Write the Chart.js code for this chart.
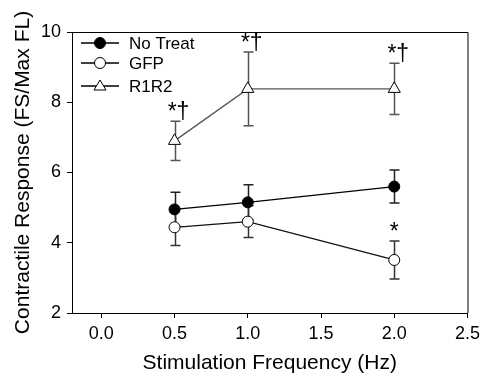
<!DOCTYPE html>
<html lang="en">
<head>
  <meta charset="UTF-8" />
  <title>Contractile Response</title>
  <script src="https://cdn.jsdelivr.net/npm/chart.js"></script>
  <style>
    body { margin: 0; background: #fff; }
    #wrap { width: 485px; height: 378px; }
  </style>
</head>
<body>
  <div id="wrap"><canvas id="chart" width="485" height="378"></canvas></div>
  <script>
    // values
    const freqs = [0.5, 1.0, 2.0];
    const noTreat = [4.95, 5.15, 5.6];
    const noTreatErr = [0.49, 0.5, 0.47];
    const gfp = [4.44, 4.6, 3.51];
    const gfpErr = [0.52, 0.45, 0.54];
    const r1r2 = [6.9, 8.38, 8.38];
    const r1r2Err = [0.56, 1.05, 0.73];
    const r1r2Marks = ['*\u2020', '*\u2020', '*\u2020'];
    const gfpMarks = ['', '', '*'];
    const xTicks = [0, 0.5, 1.0, 1.5, 2.0, 2.5];

    const FONT = 'Liberation Sans, Arial, sans-serif';
    const pts = vals => freqs.map((f, i) => ({ x: f, y: vals[i] }));

    const series = [
      { label: 'No Treat', data: noTreat, err: noTreatErr, marks: null, color: '#000', errColor: '#222', style: 'circle', fill: '#000', r: 5.5 },
      { label: 'GFP', data: gfp, err: gfpErr, marks: gfpMarks, color: '#111', errColor: '#333', style: 'circle', fill: '#fff', r: 5.5 },
      { label: 'R1R2', data: r1r2, err: r1r2Err, marks: r1r2Marks, color: '#555', errColor: '#555', style: 'triangle', fill: '#fff', r: 7 }
    ];

    const errorBars = {
      id: 'errorBars',
      beforeDatasetsDraw(chart) {
        const { ctx, scales: { x, y } } = chart;
        ctx.save();
        ctx.lineWidth = 1.5;
        series.forEach(s => {
          ctx.strokeStyle = s.errColor;
          freqs.forEach((f, i) => {
            const px = Math.round(x.getPixelForValue(f)) + 0.5;
            const top = y.getPixelForValue(s.data[i] + s.err[i]);
            const bot = y.getPixelForValue(s.data[i] - s.err[i]);
            ctx.beginPath();
            ctx.moveTo(px, top); ctx.lineTo(px, bot);
            ctx.moveTo(px - 5, top); ctx.lineTo(px + 5, top);
            ctx.moveTo(px - 5, bot); ctx.lineTo(px + 5, bot);
            ctx.stroke();
          });
        });
        ctx.restore();
      },
      afterDraw(chart) {
        const { ctx, chartArea: a, scales: { x, y } } = chart;
        ctx.save();
        // frame top + right
        ctx.strokeStyle = '#000';
        ctx.lineWidth = 1;
        ctx.beginPath();
        ctx.moveTo(a.left, a.top + 0.5); ctx.lineTo(a.right + 0.5, a.top + 0.5); ctx.lineTo(a.right + 0.5, a.bottom);
        ctx.stroke();

        // significance marks
        ctx.fillStyle = '#000';
        ctx.font = '23px ' + FONT;
        ctx.textAlign = 'center';
        ctx.textBaseline = 'alphabetic';
        series.forEach(s => {
          if (!s.marks) return;
          freqs.forEach((f, i) => {
            if (!s.marks[i]) return;
            const px = x.getPixelForValue(f) + (s.marks[i].length > 1 ? 4 : 0);
            const top = y.getPixelForValue(s.data[i] + s.err[i]);
            ctx.fillText(s.marks[i], px, top - 2);
          });
        });

        // legend
        ctx.font = '17px ' + FONT;
        ctx.textAlign = 'left';
        ctx.textBaseline = 'middle';
        const rows = [43, 63, 86];
        series.forEach((s, i) => {
          const yy = rows[i];
          ctx.strokeStyle = '#000';
          ctx.lineWidth = 1.5;
          ctx.beginPath();
          ctx.moveTo(81, yy); ctx.lineTo(119, yy);
          ctx.stroke();
          ctx.fillStyle = s.fill;
          ctx.strokeStyle = '#000';
          ctx.lineWidth = 1;
          ctx.beginPath();
          if (s.style === 'circle') {
            ctx.arc(100, yy, 5.5, 0, Math.PI * 2);
          } else {
            ctx.moveTo(100, yy - 6); ctx.lineTo(106, yy + 4); ctx.lineTo(94, yy + 4); ctx.closePath();
          }
          ctx.fill(); ctx.stroke();
          ctx.fillStyle = '#000';
          ctx.fillText(s.label, 129, yy + 1);
        });
        ctx.restore();
      }
    };

    new Chart(document.getElementById('chart'), {
      type: 'scatter',
      data: {
        datasets: series.map(s => ({
          label: s.label,
          data: pts(s.data),
          showLine: true,
          borderColor: s.color,
          borderWidth: 1.3,
          pointStyle: s.style,
          pointRadius: s.r,
          pointBackgroundColor: s.fill,
          pointBorderColor: '#000',
          pointBorderWidth: 1,
          tension: 0
        }))
      },
      options: {
        responsive: false,
        animation: false,
        layout: { padding: { top: 32, right: 13, left: 0, bottom: 0 } },
        plugins: { legend: { display: false }, tooltip: { enabled: false } },
        scales: {
          x: {
            type: 'linear',
            min: -0.2,
            max: 2.5,
            afterBuildTicks: scale => { scale.ticks = xTicks.map(v => ({ value: v })); },
            afterFit: scale => { scale.height = 65; },
            ticks: {
              color: '#000',
              font: { size: 18, family: FONT },
              padding: 5,
              maxRotation: 0,
              callback: v => Number(v).toFixed(1)
            },
            grid: { drawOnChartArea: false, drawTicks: true, tickLength: 5, color: '#000' },
            border: { color: '#000', width: 1 },
            title: { display: true, text: 'Stimulation Frequency (Hz)', color: '#000', font: { size: 21, family: FONT }, padding: { top: 4, bottom: 2 } }
          },
          y: {
            min: 2,
            max: 10,
            afterFit: scale => { scale.width = 72; },
            ticks: { stepSize: 2, color: '#000', font: { size: 18, family: FONT }, padding: 6 },
            grid: { drawOnChartArea: false, drawTicks: true, tickLength: 5, color: '#000' },
            border: { color: '#000', width: 1 },
            title: { display: true, text: 'Contractile Response (FS/Max FL)', color: '#000', font: { size: 21, family: FONT }, padding: { top: 11, bottom: 0 } }
          }
        }
      },
      plugins: [errorBars]
    });
  </script>
</body>
</html>
